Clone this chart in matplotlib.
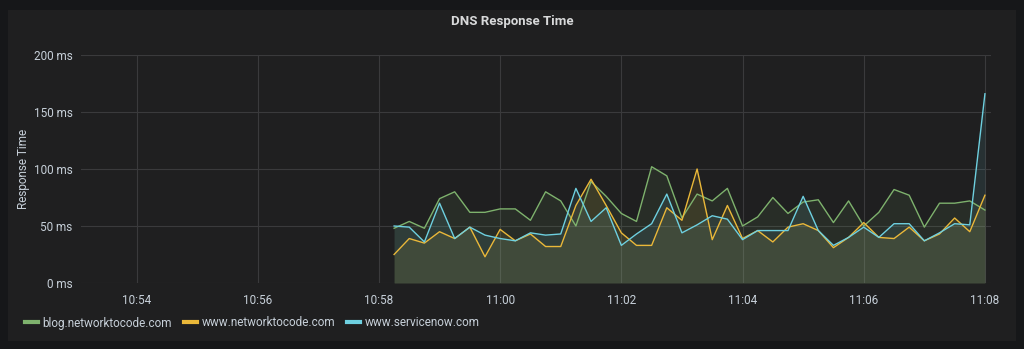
import matplotlib
matplotlib.use("Agg")
import matplotlib.pyplot as plt
import matplotlib.dates as mdates
from matplotlib.patches import Rectangle
import pandas as pd

OUTER = "#161719"
PANEL = "#1f1f20"
GRID = "#3a3a3c"
TEXT = "#d8d9da"
TICK = "#c7d0d9"

GREEN = "#7eb26d"
YELLOW = "#eab839"
BLUE = "#6ed0e0"

series_names = ["blog.networktocode.com", "www.networktocode.com", "www.servicenow.com"]

# samples every 15 s from 10:58:15 to 11:08:00
times = pd.date_range("2019-01-01 10:58:15", periods=40, freq="15s")

blog = [48, 54, 48, 74, 80, 62, 62, 65, 65, 55, 80, 72, 50,
        89, 76, 61, 54, 102, 94, 57, 78, 72, 83, 50, 58, 75, 61,
        71, 73, 53, 72, 50, 62, 82, 77, 49, 70, 70, 72, 64]
www = [25, 39, 35, 45, 39, 49, 23, 47, 37, 43, 32, 32, 68,
       91, 68, 44, 33, 33, 66, 55, 100, 38, 68, 39, 46, 36, 49,
       52, 46, 31, 40, 53, 40, 39, 49, 37, 43, 57, 45, 77]
servicenow = [50, 49, 36, 70, 39, 49, 42, 39, 37, 44, 42, 43, 83,
              54, 66, 33, 43, 52, 78, 44, 51, 59, 56, 38, 46, 46, 46,
              76, 46, 33, 40, 49, 40, 52, 52, 37, 44, 52, 51, 166]

y_ticks = [0, 50, 100, 150, 200]
y_tick_labels = ["0 ms", "50 ms", "100 ms", "150 ms", "200 ms"]

plt.rcParams["font.family"] = ["Roboto", "DejaVu Sans"]

fig = plt.figure(figsize=(10.24, 3.49), dpi=100, facecolor=OUTER)
fig.patches.append(Rectangle((8 / 1024, 1 - 341 / 349), 1008 / 1024, 331 / 349,
                             transform=fig.transFigure, facecolor=PANEL,
                             edgecolor="none", zorder=-10))

ax = fig.add_axes([81 / 1024, 1 - 283 / 349, 910 / 1024, 228 / 349])
ax.set_facecolor("none")

for vals, color, name in zip([blog, www, servicenow], [GREEN, YELLOW, BLUE], series_names):
    ax.fill_between(times, vals, 0, color=color, alpha=0.1, linewidth=0)
    ax.plot(times, vals, color=color, linewidth=1.0, label=name)

ax.set_xlim(pd.Timestamp("2019-01-01 10:53:05"), pd.Timestamp("2019-01-01 11:08:06"))
ax.set_ylim(0, 200)
ax.set_yticks(y_ticks, y_tick_labels)
ax.xaxis.set_major_locator(mdates.MinuteLocator(byminute=range(0, 60, 2)))
ax.xaxis.set_major_formatter(mdates.DateFormatter("%H:%M"))

ax.grid(True, color=GRID, linewidth=0.8)
ax.set_axisbelow(True)
for spine in ax.spines.values():
    spine.set_visible(False)
ax.tick_params(length=0, colors=TICK, labelsize=8.5, pad=6)
ax.tick_params(axis="x", pad=8)
ax.set_ylabel("Response Time", color=TICK, fontsize=8.5, labelpad=3)

fig.text(0.5, 1 - 22 / 349, "DNS Response Time", color=TEXT, fontsize=9.5,
         fontweight="bold", ha="center", va="center")

leg = fig.legend(loc="center left", bbox_to_anchor=(20 / 1024, 1 - 323 / 349), ncol=3,
                 frameon=False, fontsize=8.5, handlelength=1.1, handletextpad=0.4,
                 columnspacing=1.0, borderaxespad=0)
for line in leg.get_lines():
    line.set_linewidth(3)
for text in leg.get_texts():
    text.set_color(TICK)

fig.savefig("out.png", dpi=100, facecolor=OUTER)
